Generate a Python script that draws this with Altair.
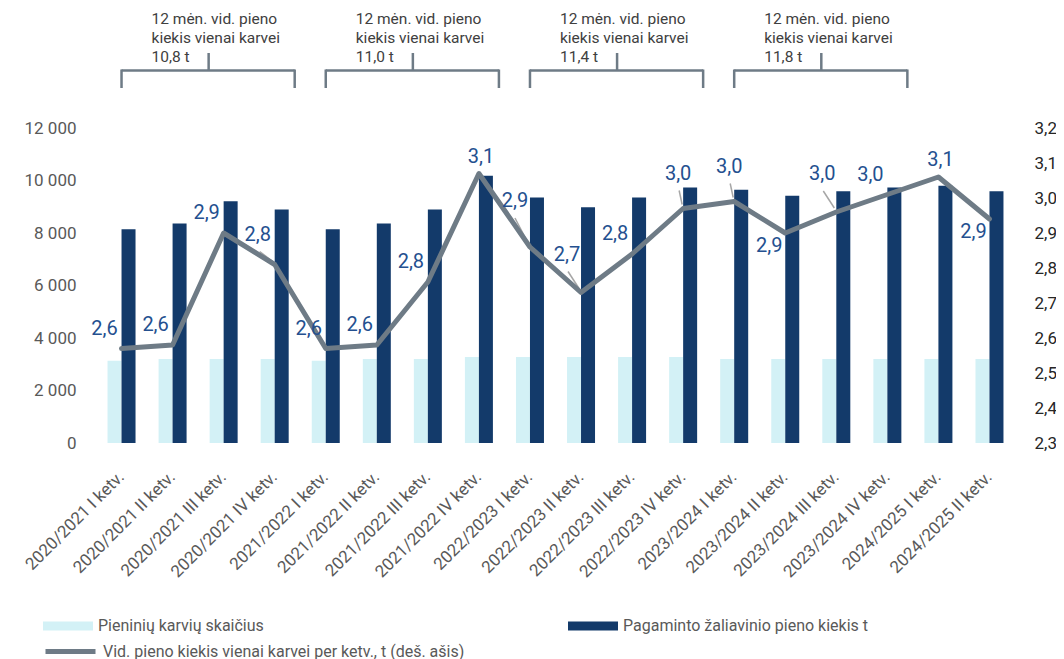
import altair as alt
import pandas as pd

# ---------------- data ----------------
categories = [
    "2020/2021 I ketv.", "2020/2021 II ketv.", "2020/2021 III ketv.", "2020/2021 IV ketv.",
    "2021/2022 I ketv.", "2021/2022 II ketv.", "2021/2022 III ketv.", "2021/2022 IV ketv.",
    "2022/2023 I ketv.", "2022/2023 II ketv.", "2022/2023 III ketv.", "2022/2023 IV ketv.",
    "2023/2024 I ketv.", "2023/2024 II ketv.", "2023/2024 III ketv.", "2023/2024 IV ketv.",
    "2024/2025 I ketv.", "2024/2025 II ketv.",
]
cows = [3130, 3200, 3200, 3200, 3130, 3200, 3200, 3280, 3280,
        3280, 3280, 3280, 3200, 3200, 3200, 3200, 3200, 3200]
milk = [8140, 8360, 9210, 8900, 8140, 8360, 8900, 10180, 9350,
        8980, 9350, 9730, 9650, 9420, 9590, 9730, 9800, 9590]
avg_per_cow = [2.57, 2.58, 2.90, 2.81, 2.57, 2.58, 2.76, 3.07, 2.86,
               2.73, 2.84, 2.97, 2.99, 2.90, 2.96, 3.01, 3.06, 2.94]
# data label placement style (like Excel label positions)
label_place = ["al", "al", "al", "lm", "al", "al", "al", "a", "lh",
               "ll", "al", "la", "la", "bl", "ll", "al", "a", "bl"]
bracket_values = [10.8, 11.0, 11.4, 11.8]

series_names = [
    "Pieninių karvių skaičius",
    "Pagaminto žaliavinio pieno kiekis t",
    "Vid. pieno kiekis vienai karvei per ketv., t (deš. ašis)",
]

LIGHT = "#d3f1f6"
DARK = "#133a6a"
LINE = "#6e7b86"
LBL = "#24508f"
FONT = "Roboto"

df = pd.DataFrame({"cat": categories, "cows": cows, "milk": milk,
                   "avg": avg_per_cow, "pos": label_place})
df["s_cows"] = series_names[0]
df["s_milk"] = series_names[1]
df["s_avg"] = series_names[2]

br = pd.DataFrame({
    "start": [categories[4 * k] for k in range(4)],
    "mid": [categories[4 * k + 2] for k in range(4)],
    "end": [categories[4 * k + 3] for k in range(4)],
    "txt": ["12 mėn. vid. pieno\nkiekis vienai karvei\n" + f"{v:.1f}".replace(".", ",") + " t"
            for v in bracket_values],
})

xscale = alt.Scale(domain=categories, paddingInner=0, paddingOuter=0)
x_axis = alt.Axis(labelAngle=-45, labelAlign="right", labelBaseline="middle",
                  labelPadding=31, domain=False, ticks=False, labelOverlap=False,
                  labelFontSize=17, labelColor="#595959", labelFont=FONT,
                  labelLimit=300)


def X(field, **kw):
    return alt.X(f"{field}:N", scale=xscale, title=None, axis=x_axis, **kw)


left_axis = alt.Axis(values=[0, 2000, 4000, 6000, 8000, 10000, 12000],
                     labelExpr="replace(format(datum.value, ',.0f'), ',', ' ')",
                     domain=False, ticks=False, grid=False, labelPadding=20,
                     labelFontSize=17, labelColor="#595959", labelFont=FONT, title=None)
right_axis = alt.Axis(orient="right", values=[2.3, 2.4, 2.5, 2.6, 2.7, 2.8, 2.9, 3.0, 3.1, 3.2],
                      labelExpr="replace(format(datum.value, '.1f'), '.', ',')",
                      domain=False, ticks=False, grid=False, labelPadding=19,
                      labelFontSize=17, labelColor="#262626", labelFont=FONT, title=None)

yl = alt.Scale(domain=[0, 12000], nice=False, zero=True)
yr = alt.Scale(domain=[2.3, 3.2], nice=False, zero=False)
YR = alt.Y("avg:Q", scale=yr, axis=right_axis, title=None)

rect_sym = "M-1,-0.18H1V0.18H-1Z"
leg_common = dict(title=None, orient="none", symbolSize=2500, labelFontSize=16,
                  labelColor="#595959", labelFont=FONT, labelOffset=5, padding=0,
                  labelLimit=600)

base = alt.Chart(df)

light = base.mark_bar(width=14, xOffset=-7).encode(
    x=X("cat"),
    y=alt.Y("cows:Q", scale=yl, axis=left_axis, title=None),
    fill=alt.Fill("s_cows:N", scale=alt.Scale(domain=[series_names[0]], range=[LIGHT]),
                  legend=alt.Legend(legendX=-53, legendY=473, symbolType=rect_sym,
                                    symbolStrokeWidth=0, **leg_common)),
)
dark = base.mark_bar(width=14, xOffset=7).encode(
    x=X("cat"),
    y=alt.Y("milk:Q", scale=yl, axis=left_axis, title=None),
    color=alt.Color("s_milk:N", scale=alt.Scale(domain=[series_names[1]], range=[DARK]),
                    legend=alt.Legend(legendX=472, legendY=473, symbolType=rect_sym,
                                      symbolStrokeWidth=0, **leg_common)),
)
bars = alt.layer(light, dark)

line = base.mark_line(strokeWidth=5, strokeCap="round", strokeJoin="round").encode(
    x=X("cat"),
    y=YR,
    stroke=alt.Stroke("s_avg:N", scale=alt.Scale(domain=[series_names[2]], range=[LINE]),
                      legend=alt.Legend(legendX=-53, legendY=496, symbolType="stroke",
                                        symbolStrokeWidth=5, **leg_common)),
)

place_style = {
    "al": dict(dx=-17, dy=-20),
    "a": dict(dx=2, dy=-17),
    "bl": dict(dx=-16, dy=13),
    "ll": dict(dx=-14, dy=-38),
    "lm": dict(dx=-17, dy=-30),
    "lh": dict(dx=-15, dy=-46),
    "la": dict(dx=-5, dy=-35),
}
leader_style = {
    "ll": dict(xOffset=-13, yOffset=-21, x2Offset=-2, y2Offset=-4),
    "lm": dict(xOffset=-15, yOffset=-13, x2Offset=-2, y2Offset=-3),
    "lh": dict(xOffset=-15, yOffset=-29, x2Offset=-3, y2Offset=-6),
    "la": dict(xOffset=-4, yOffset=-18, x2Offset=-1, y2Offset=-4),
}

labels = []
for key, st in place_style.items():
    labels.append(
        base.transform_filter(alt.datum.pos == key)
        .transform_calculate(lbl="replace(format(datum.avg, '.1f'), '.', ',')")
        .mark_text(fontSize=20, font=FONT, color=LBL, align="center", baseline="middle", **st)
        .encode(x=X("cat"), y=YR, text="lbl:N")
    )
leaders = []
for key, st in leader_style.items():
    leaders.append(
        base.transform_filter(alt.datum.pos == key)
        .mark_rule(color="#a6a6a6", strokeWidth=1.5, **st)
        .encode(x=X("cat", bandPosition=0.5),
                x2=alt.X2("cat", bandPosition=0.5),
                y=YR, y2="avg:Q")
    )

line_layer = alt.layer(*leaders, line, *labels)

bb = alt.Chart(br)
BR = dict(color=LINE, strokeWidth=2.5)
br_h = bb.mark_rule(x2Offset=20, **BR).encode(
    x=X("start", bandPosition=0.5),
    x2=alt.X2("end", bandPosition=0.5),
    y=alt.value(-57.5),
)
br_l = bb.mark_rule(**BR).encode(x=X("start"), y=alt.value(-58.5), y2=alt.value(-40))
br_r = bb.mark_rule(xOffset=20, **BR).encode(x=X("end"), y=alt.value(-58.5), y2=alt.value(-40))
br_c = bb.mark_rule(xOffset=-15, **BR).encode(x=X("mid"), y=alt.value(-75), y2=alt.value(-57.5))
br_t = bb.mark_text(align="left", baseline="top", lineBreak="\n", lineHeight=19,
                    fontSize=15.5, font=FONT, color="#404040", xOffset=30).encode(
    x=X("start"), y=alt.value(-116), text="txt:N")

chart = alt.layer(bars, line_layer, br_h, br_l, br_r, br_c, br_t).resolve_scale(
    y="independent"
).properties(
    width=919, height=315,
    padding={"left": 88, "top": 120, "right": 41, "bottom": 216},
    autosize=alt.AutoSizeParams(type="none"),
).configure_view(stroke=None)

chart.save("out.html", embed_options={"renderer": "svg", "actions": False})
